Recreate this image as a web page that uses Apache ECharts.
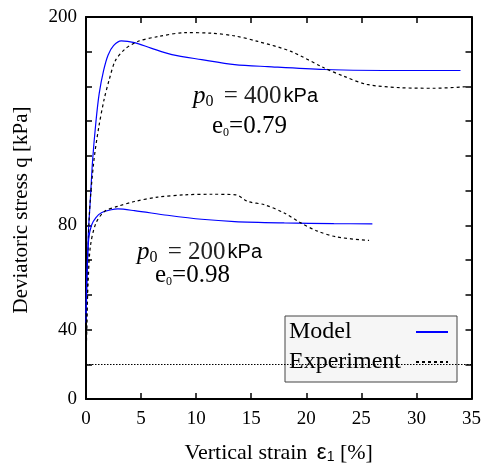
<!DOCTYPE html>
<html>
<head>
<meta charset="utf-8">
<script src="https://cdn.jsdelivr.net/npm/echarts@6/dist/echarts.min.js"></script>
<style>
  html, body { margin: 0; padding: 0; background: #fff; }
  #chart { width: 484px; height: 469px; }
</style>
</head>
<body>
<div id="chart"></div>
<script>
// Triaxial shearing curves: deviatoric stress vs vertical strain
const SERIF = '"Liberation Serif", "Times New Roman", serif';
const SANS = '"Liberation Sans", Arial, sans-serif';

// Axis ranges and tick labels
const xTicks = ['0', '5', '10', '15', '20', '25', '30', '35'];
const yMax = 200;
const ySteps = 11;
const yTickLabels = ['0', '', '40', '', '', '80', '', '', '', '', '', '200'];
const refLineLevel = 1; // dotted reference line at the first tick step

// p0 = 400 kPa, e0 = 0.79
const model400 = [
  [0, 40], [0.2, 85], [0.4, 105], [0.6, 125], [0.9, 145], [1.2, 160], [1.6, 172],
  [2.0, 180], [2.5, 185], [3.2, 187.5], [4.4, 186.6], [5.9, 183.7], [7.8, 180.3],
  [10.5, 177.7], [13.5, 175.1], [16.5, 174], [21.6, 172.5], [27, 172], [34, 172]
];
const experiment400 = [
  [0, 18], [0.1, 50], [0.3, 96], [0.7, 124], [1.15, 142], [1.65, 157], [2.1, 167],
  [2.65, 177], [3.5, 183], [4.7, 187.2], [6.5, 189.7], [9, 191.8], [11.4, 191.5],
  [13.5, 190.1], [15.6, 187.2], [18.6, 182], [21.6, 173.4], [23.4, 169], [25.5, 164.7],
  [28.5, 163], [31.6, 162.7], [34.5, 163.5]
];

// p0 = 200 kPa, e0 = 0.98
const model200 = [
  [0, 45], [0.1, 68], [0.25, 84], [0.5, 91], [0.9, 95], [1.4, 97.5], [2.3, 99.1],
  [2.9, 99.5], [4.4, 98.6], [7.4, 96.2], [10.5, 94.1], [13.5, 92.9], [18, 92.2],
  [22.5, 91.8], [26, 91.7]
];
const experiment200 = [
  [0, 18], [0.1, 45], [0.2, 62], [0.4, 80], [0.9, 92], [1.7, 98.3], [2.9, 100.9],
  [4.4, 103.4], [6.5, 105.7], [9, 106.9], [11.4, 107.2], [13.6, 106.9], [14.7, 103.4],
  [16.2, 101.7], [18, 97.4], [19.5, 92.2], [21, 87.9], [22.8, 84.8], [25.7, 83]
];

const yStep = yMax / ySteps;
const xMax = Number(xTicks[xTicks.length - 1]);
const xStep = Number(xTicks[1]) - Number(xTicks[0]);

const chart = echarts.init(document.getElementById('chart'), null, { renderer: 'canvas' });

const axisLine = { show: true, onZero: false, lineStyle: { color: '#000', width: 2 } };
const axisTick = { show: true, inside: true, length: 6, lineStyle: { color: '#000', width: 1.5 } };

const modelStyle = { color: '#0000ff', width: 1.2, type: 'solid' };
const expStyle = { color: '#000', width: 1.2, type: [3, 3] };

function lineSeries(name, data, style, extra) {
  return Object.assign({
    name: name,
    type: 'line',
    data: data,
    symbol: 'none',
    smooth: 0.3,
    lineStyle: style,
    itemStyle: { color: style.color },
    z: 3
  }, extra || {});
}

function pressureLabel(value) {
  return {
    text: '{p|p}{o|0}{t| = ' + value + '}{k|kPa}',
    rich: {
      p: { fontFamily: SERIF, fontStyle: 'italic', fontSize: 25, fill: '#000' },
      o: { fontFamily: SERIF, fontSize: 16, fill: '#000', verticalAlign: 'bottom', padding: [10, 0, 0, 0] },
      t: { fontFamily: SERIF, fontSize: 25, fill: '#222', padding: [0, 2, 0, 4] },
      k: { fontFamily: SANS, fontSize: 20, fill: '#000' }
    }
  };
}

function voidLabel(value) {
  return {
    text: '{e|e}{o|0}{t|=' + value + '}',
    rich: {
      e: { fontFamily: SERIF, fontSize: 25, fill: '#000' },
      o: { fontFamily: SERIF, fontSize: 12, fill: '#000', verticalAlign: 'bottom', padding: [10, 0, 0, 0] },
      t: { fontFamily: SERIF, fontSize: 25, fill: '#000' }
    }
  };
}

const option = {
  backgroundColor: '#fff',
  animation: false,
  grid: { left: 86, right: 11, top: 17, bottom: 66 },
  xAxis: [
    {
      type: 'value', min: 0, max: xMax, interval: xStep, position: 'bottom',
      axisLine: axisLine, axisTick: axisTick, splitLine: { show: false },
      axisLabel: { color: '#000', fontFamily: SERIF, fontSize: 19, margin: 11 },
      name: '{t|Vertical strain }{e|ε}{s|1}{t| [%]}',
      nameLocation: 'middle', nameGap: 43,
      nameTextStyle: {
        rich: {
          t: { fontFamily: SERIF, fontSize: 22, color: '#000' },
          e: { fontFamily: SANS, fontSize: 22, color: '#000', padding: [0, 0, 0, 4] },
          s: { fontFamily: SANS, fontSize: 14, color: '#000', verticalAlign: 'bottom', padding: [8, 0, 0, 0] }
        }
      }
    },
    {
      type: 'value', min: 0, max: xMax, interval: xStep, position: 'top',
      axisLine: axisLine, axisTick: axisTick, axisLabel: { show: false }, splitLine: { show: false }
    }
  ],
  yAxis: [
    {
      type: 'value', min: 0, max: yMax, interval: yStep, position: 'left',
      axisLine: axisLine, axisTick: axisTick, splitLine: { show: false },
      axisLabel: {
        color: '#000', fontFamily: SERIF, fontSize: 19, margin: 9,
        formatter: function (v) { return yTickLabels[Math.round(v / yStep)] || ''; }
      }
    },
    {
      type: 'value', min: 0, max: yMax, interval: yStep, position: 'right',
      axisLine: axisLine, axisTick: axisTick, axisLabel: { show: false }, splitLine: { show: false }
    }
  ],
  legend: {
    orient: 'vertical',
    left: 285, top: 316,
    align: 'right',
    backgroundColor: '#f6f6f6',
    borderColor: '#444',
    borderWidth: 1,
    borderRadius: 0,
    padding: [3, 8, 7, 4],
    itemGap: 4,
    itemWidth: 32,
    itemHeight: 10,
    itemStyle: { opacity: 0 },
    selectedMode: false,
    data: ['Model', 'Experiment'],
    formatter: function (name) { return '{n|' + name + '}'; },
    textStyle: {
      fontFamily: SERIF, fontSize: 24, color: '#000', lineHeight: 26,
      rich: {
        n: { fontFamily: SERIF, fontSize: 24, color: '#000', width: 122, align: 'left', lineHeight: 26 }
      }
    }
  },
  graphic: [
    {
      type: 'text', x: 21, y: 210, rotation: Math.PI / 2,
      style: {
        text: 'Deviatoric stress q [kPa]',
        font: '21px ' + SERIF, fill: '#000',
        align: 'center', verticalAlign: 'middle'
      }
    },
    { type: 'text', left: 193, top: 84, style: pressureLabel('400') },
    { type: 'text', left: 212, top: 114, style: voidLabel('0.79') },
    { type: 'text', left: 137, top: 240, style: pressureLabel('200') },
    { type: 'text', left: 155, top: 263, style: voidLabel('0.98') }
  ],
  series: [
    lineSeries('Model', model400, modelStyle),
    lineSeries('Experiment', experiment400, expStyle, {
      markLine: {
        silent: true,
        symbol: 'none',
        label: { show: false },
        lineStyle: { color: '#000', width: 1, type: [1.5, 1.5] },
        data: [{ yAxis: refLineLevel * yStep }]
      }
    }),
    lineSeries('Model', model200, modelStyle),
    lineSeries('Experiment', experiment200, expStyle)
  ]
};

chart.setOption(option);
</script>
</body>
</html>
